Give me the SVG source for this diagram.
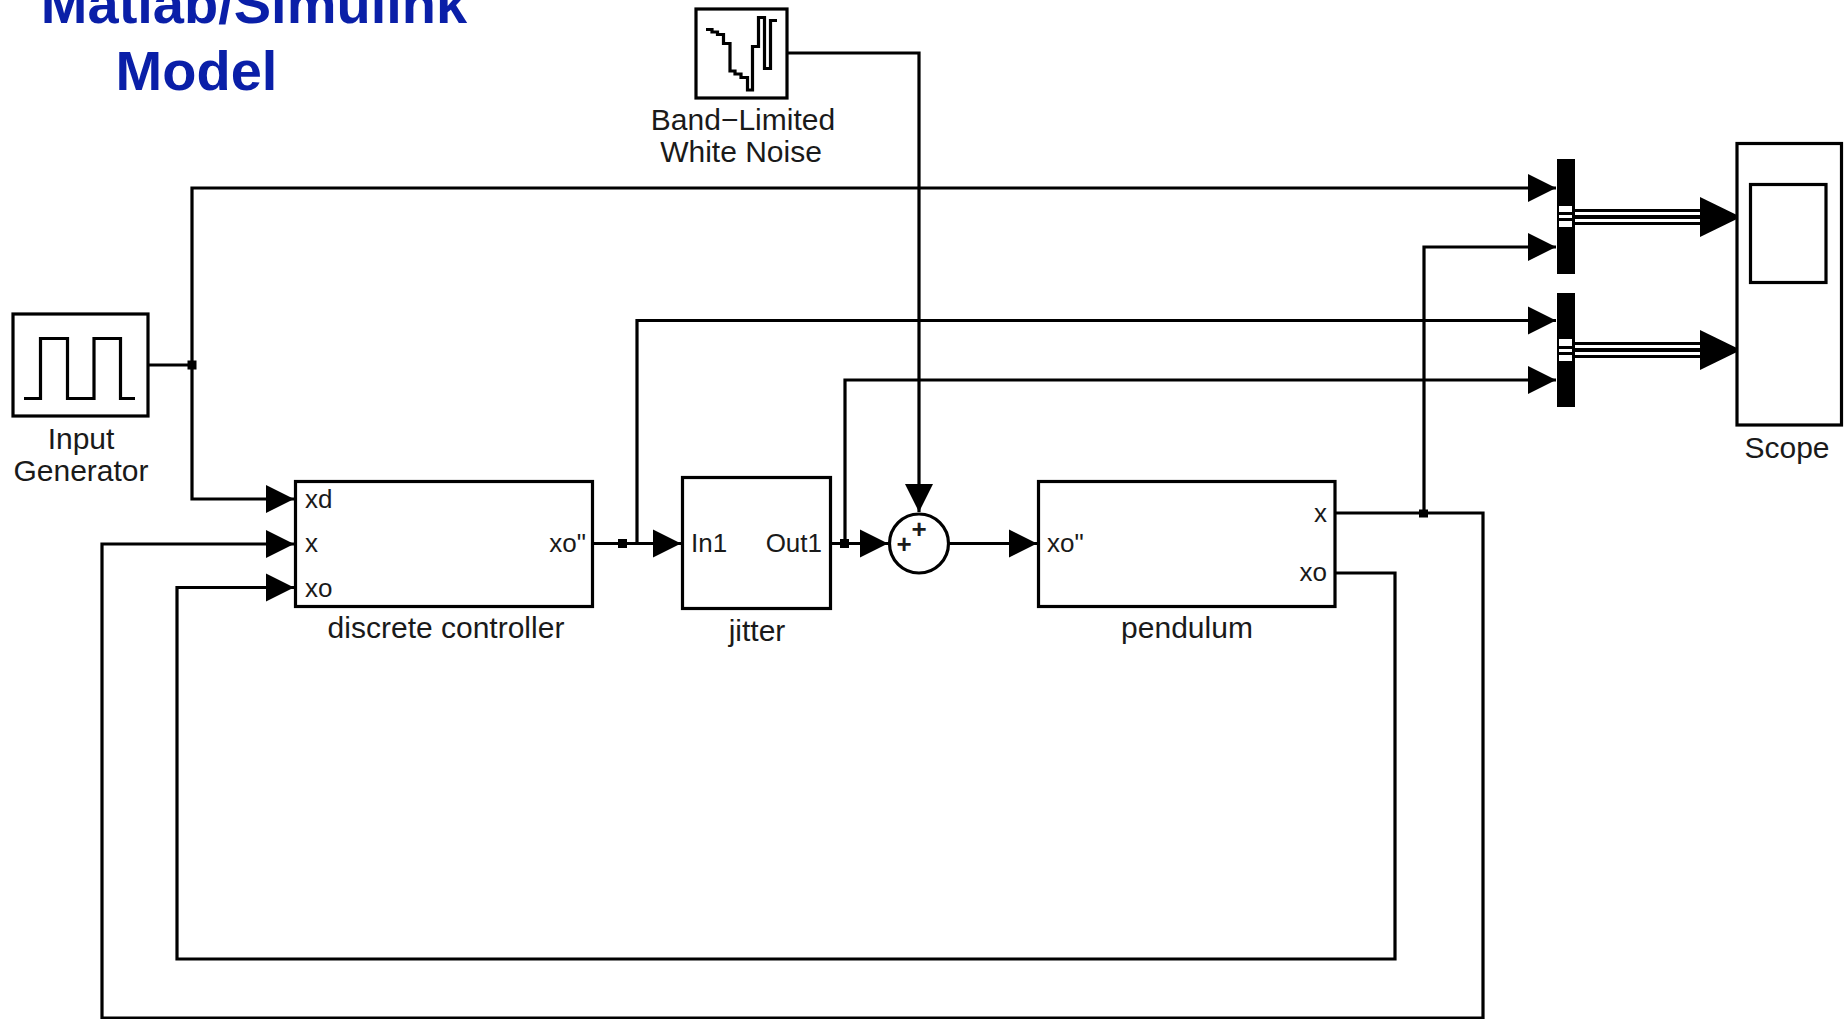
<svg xmlns="http://www.w3.org/2000/svg" width="1845" height="1019" viewBox="0 0 1845 1019">
<style>
.b{fill:#fff;stroke:#000;stroke-width:3.200}
.i{fill:none;stroke:#000;stroke-width:3.200}
.w{fill:none;stroke:#000;stroke-width:3.200}
.t{font-family:"Liberation Sans",Arial,sans-serif;font-size:30px;fill:#1a1a1a}
.p{font-family:"Liberation Sans",Arial,sans-serif;font-size:26px;fill:#1a1a1a}
.m{text-anchor:middle}
.e{text-anchor:end}
.h{font-family:"Liberation Sans",Arial,sans-serif;font-size:56px;font-weight:bold;fill:#0a1fa8;text-anchor:middle}
.j{fill:#000}
</style>
<defs>
<marker id="a" markerUnits="userSpaceOnUse" markerWidth="30" markerHeight="30" refX="28" refY="15" orient="auto"><path d="M0 1L28 15L0 29Z" fill="#000"/></marker>
</defs>
<rect width="1845" height="1019" fill="#fff"/>
<g id="title"><text class="h" x="254" y="23">Matlab/Simulink</text><text class="h" x="196.500" y="90">Model</text></g>
<g id="connectors">
<path class="w" d="M148 365H192"/>
<path class="w" d="M192 365V188H1556" marker-end="url(#a)"/>
<path class="w" d="M192 365V499H294" marker-end="url(#a)"/>
<path class="w" d="M787 53H919V512" marker-end="url(#a)"/>
<path class="w" d="M592 543.500H681" marker-end="url(#a)"/>
<path class="w" d="M637 543.500V320.500H1556" marker-end="url(#a)"/>
<path class="w" d="M831 543.500H888" marker-end="url(#a)"/>
<path class="w" d="M845 543.500V380H1556" marker-end="url(#a)"/>
<path class="w" d="M949 543.500H1037" marker-end="url(#a)"/>
<path class="w" d="M1335 513H1483V1018H102V544H294" marker-end="url(#a)"/>
<path class="w" d="M1424 513V247H1556" marker-end="url(#a)"/>
<path class="w" d="M1335 573H1395V959H177V587.500H294" marker-end="url(#a)"/>
<rect class="j" x="187.500" y="360.500" width="9" height="9"/>
<rect class="j" x="618" y="539" width="9" height="9"/>
<rect class="j" x="840" y="539" width="9" height="9"/>
<rect class="j" x="1419" y="509.500" width="9" height="8"/>
<g id="bus1"><rect class="j" x="1575" y="209" width="126" height="16"/><rect x="1575" y="212" width="126" height="3" fill="#fff"/><rect x="1575" y="219" width="126" height="3" fill="#fff"/><path class="j" d="M1700 197L1741 217L1700 237Z"/></g>
<g id="bus2"><rect class="j" x="1575" y="342" width="126" height="16"/><rect x="1575" y="345" width="126" height="3" fill="#fff"/><rect x="1575" y="352" width="126" height="3" fill="#fff"/><path class="j" d="M1700 330L1741 350L1700 370Z"/></g>
</g>
<g id="input-generator"><rect class="b" x="13" y="314" width="135" height="102"/><path class="i" d="M24 398.500H40.500V338.500H67.500V398.500H94V338.500H120.500V398.500H135"/><text class="t m" x="81" y="449">Input</text><text class="t m" x="81" y="481">Generator</text></g>
<g id="band-limited-white-noise"><rect class="b" x="696" y="9" width="91" height="89"/><path class="i" d="M706 29.500H712V32H717.500V34.500H723.500V43.500H730V71H735V74H741V77.500H747.500V90H752.500V46.500H758.500V17.500H764.500V68.500H770.500V20.500H777"/><text class="t m" x="743" y="130">Band−Limited</text><text class="t m" x="741" y="162">White Noise</text></g>
<g id="discrete-controller"><rect class="b" x="295.500" y="481.500" width="297" height="125"/><text class="p" x="305" y="508">xd</text><text class="p" x="305" y="552">x</text><text class="p" x="305" y="597">xo</text><text class="p e" x="586" y="552">xo"</text><text class="t m" x="446" y="638">discrete controller</text></g>
<g id="jitter"><rect class="b" x="682.500" y="477.500" width="148" height="131"/><text class="p" x="691" y="552">In1</text><text class="p e" x="822" y="552">Out1</text><text class="t m" x="757" y="641">jitter</text></g>
<g id="sum"><ellipse class="b" cx="919" cy="543.500" rx="29.500" ry="29.500"/><text class="p m" x="904" y="553" style="font-weight:bold">+</text><text class="p m" x="919" y="538" style="font-weight:bold">+</text></g>
<g id="pendulum"><rect class="b" x="1038.500" y="481.500" width="296.500" height="125"/><text class="p" x="1047" y="552">xo"</text><text class="p e" x="1327" y="522">x</text><text class="p e" x="1327" y="581">xo</text><text class="t m" x="1187" y="638">pendulum</text></g>
<g id="mux1"><rect class="j" x="1557" y="159" width="18" height="115"/><rect x="1559" y="206" width="13" height="6" fill="#fff"/><rect x="1559" y="215" width="13" height="3" fill="#fff"/><rect x="1559" y="221" width="13" height="6" fill="#fff"/></g>
<g id="mux2"><rect class="j" x="1557" y="293" width="18" height="114"/><rect x="1559" y="339" width="13" height="7" fill="#fff"/><rect x="1559" y="349" width="13" height="3" fill="#fff"/><rect x="1559" y="355" width="13" height="6" fill="#fff"/></g>
<g id="scope"><rect class="b" x="1737" y="143.500" width="104.500" height="281.500"/><rect class="i" x="1750.500" y="184.500" width="75.500" height="98"/><text class="t m" x="1787" y="458">Scope</text></g>
</svg>
